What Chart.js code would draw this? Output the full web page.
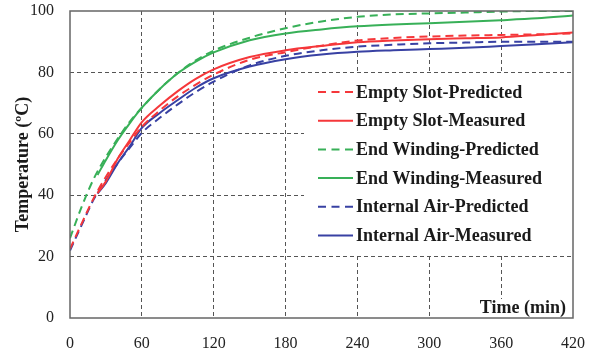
<!DOCTYPE html>
<html>
<head>
<meta charset="utf-8">
<script src="https://cdn.jsdelivr.net/npm/chart.js@4.4.1/dist/chart.umd.min.js"></script>
<style>
html,body{margin:0;padding:0;background:#fff;}
#c{display:block;}
</style>
</head>
<body>
<canvas id="c" width="601" height="350"></canvas>
<script>
// ---- data ----
const timePredicted = [0,10,20,30,40,50,60,75,90,105,120,150,180,210,240,270,300,330,360,390,420];
const timeMeasured  = [23,30,40,50,60,75,90,105,120,150,180,210,240,270,300,330,360,390,420];

const emptySlotPredicted   = [22.5,31,39.2,46,52,57.3,62.3,67.6,72.2,76,79.3,84.1,86.6,88.7,90.4,91.2,91.7,92,92.2,92.4,92.7];
const emptySlotMeasured    = [40.7,44.5,52,58,63.8,69.2,73.9,77.9,81,85,87.2,88.6,89.8,90.4,90.8,91.1,91.4,92.2,93];
const endWindingPredicted  = [26,36.5,45.5,52.5,58.5,64,68.5,74.6,79.8,83.9,87.1,91.3,94.4,96.6,98.1,98.9,99.2,99.5,99.8,100,100];
const endWindingMeasured   = [46.6,51.5,58,63.5,68.5,74.6,79.7,83.5,86.5,90.5,92.7,94,95,95.6,96,96.5,97,97.6,98.5];
const internalAirPredicted = [22,30.5,38.8,45,50.5,55.5,60.3,65.2,69.6,73.6,77,82.3,85.4,87.2,88.4,89,89.5,89.7,90,90,90];
const internalAirMeasured  = [40.5,44,50.5,56,61.9,66.8,71,75,78.1,81.9,84.3,85.8,86.7,87.2,87.6,88,88.6,89.2,89.8];

const seriesLabels = ["Empty Slot-Predicted","Empty Slot-Measured","End Winding-Predicted","End Winding-Measured","Internal Air-Predicted","Internal Air-Measured"];
const xTicks = [0,60,120,180,240,300,360,420];
const yTicks = [0,20,40,60,80,100];

// ---- styling ----
const RED = '#f5373a', GREEN = '#38b058', BLUE = '#3841a3';
const SERIF = '"Liberation Serif","Times New Roman",serif';
const DASH = [8,5];

function pts(xs, ys){ return xs.map((x,i)=>({x:x, y:ys[i]})); }
function ds(label, xs, ys, color, dashed){
  return {
    label: label,
    data: pts(xs, ys),
    borderColor: color,
    backgroundColor: color,
    borderWidth: 2,
    borderDash: dashed ? DASH : [],
    pointRadius: 0,
    fill: false,
    tension: 0.4,
    cubicInterpolationMode: 'monotone'
  };
}

const datasets = [
  ds(seriesLabels[0], timePredicted, emptySlotPredicted, RED, true),
  ds(seriesLabels[1], timeMeasured, emptySlotMeasured, RED, false),
  ds(seriesLabels[2], timePredicted, endWindingPredicted, GREEN, true),
  ds(seriesLabels[3], timeMeasured, endWindingMeasured, GREEN, false),
  ds(seriesLabels[4], timePredicted, internalAirPredicted, BLUE, true),
  ds(seriesLabels[5], timeMeasured, internalAirMeasured, BLUE, false)
];

// frame + in-plot legend + "Time (min)" label
const decor = {
  id: 'decor',
  afterDatasetsDraw(chart){
    const ctx = chart.ctx, a = chart.chartArea;
    ctx.save();
    // legend box (white, hides grid)
    ctx.fillStyle = '#fff';
    ctx.fillRect(304, 74, a.right - 304 - 2, 181);
    const rowY0 = 92, rowStep = 28.7;
    ctx.font = 'bold 18px ' + SERIF;
    ctx.textBaseline = 'middle';
    ctx.textAlign = 'left';
    chart.data.datasets.forEach((d, i) => {
      const y = rowY0 + i*rowStep;
      ctx.strokeStyle = d.borderColor;
      ctx.lineWidth = 2;
      ctx.setLineDash(d.borderDash && d.borderDash.length ? [8,5.5] : []);
      ctx.beginPath(); ctx.moveTo(318, y); ctx.lineTo(353, y); ctx.stroke();
      ctx.setLineDash([]);
      ctx.fillStyle = '#1a1a1a';
      ctx.fillText(d.label, 356, y + 1);
    });
    // "Time (min)" label
    ctx.font = 'bold 18px ' + SERIF;
    const t = 'Time (min)';
    const w = ctx.measureText(t).width;
    ctx.fillStyle = '#fff';
    ctx.fillRect(a.right - 7 - w - 3, 299, w + 6, a.bottom - 299 - 1);
    ctx.fillStyle = '#1a1a1a';
    ctx.textAlign = 'right';
    ctx.textBaseline = 'alphabetic';
    ctx.fillText(t, a.right - 7, 313);
    // frame
    ctx.strokeStyle = '#666';
    ctx.lineWidth = 1.5;
    ctx.strokeRect(a.left, a.top, a.right - a.left, a.bottom - a.top);
    ctx.restore();
  }
};

new Chart(document.getElementById('c'), {
  type: 'line',
  data: { datasets: datasets },
  options: {
    responsive: false,
    animation: false,
    layout: { padding: { top: 11, right: 28, left: 0, bottom: 0 } },
    plugins: { legend: { display: false }, tooltip: { enabled: false } },
    scales: {
      x: {
        type: 'linear', min: 0, max: 420,
        afterFit(s){ s.height = 32; s.paddingLeft = 0; s.paddingRight = 0; },
        afterBuildTicks(s){ s.ticks = xTicks.map(v => ({value: v})); },
        grid: { color: (c) => (c.tick && (c.tick.value === 0 || c.tick.value === 420)) ? 'rgba(0,0,0,0)' : '#555', lineWidth: 1, drawTicks: false },
        border: { display: false, dash: [4,3] },
        ticks: { padding: 16, maxRotation: 0, autoSkip: false, color: '#222', font: { family: SERIF, size: 16 } }
      },
      y: {
        type: 'linear', min: 0, max: 100,
        afterFit(s){ s.width = 70; s.paddingTop = 0; s.paddingBottom = 0; },
        afterBuildTicks(s){ s.ticks = yTicks.map(v => ({value: v})); },
        grid: { color: (c) => (c.tick && (c.tick.value === 0 || c.tick.value === 100)) ? 'rgba(0,0,0,0)' : '#555', lineWidth: 1, drawTicks: false },
        border: { display: false, dash: [4,3] },
        ticks: { padding: 16, color: '#222', font: { family: SERIF, size: 16 } },
        title: { display: true, text: 'Temperature (ºC)', color: '#1a1a1a', padding: { top: 13, bottom: 0 }, font: { family: SERIF, size: 18, weight: 'bold' } }
      }
    }
  },
  plugins: [decor]
});
</script>
</body>
</html>
